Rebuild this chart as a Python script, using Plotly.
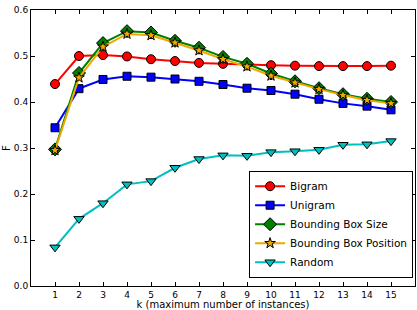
import plotly.graph_objects as go

k = list(range(1, 16))
bigram = [0.439, 0.500, 0.502, 0.499, 0.493, 0.489, 0.485, 0.483, 0.481, 0.480, 0.479, 0.478, 0.478, 0.478, 0.479]
unigram = [0.344, 0.429, 0.449, 0.456, 0.454, 0.450, 0.445, 0.438, 0.430, 0.425, 0.417, 0.406, 0.397, 0.391, 0.383]
bbox_size = [0.297, 0.463, 0.528, 0.554, 0.551, 0.533, 0.518, 0.498, 0.483, 0.462, 0.445, 0.430, 0.417, 0.407, 0.400]
bbox_pos = [0.295, 0.453, 0.520, 0.548, 0.545, 0.529, 0.512, 0.493, 0.477, 0.457, 0.442, 0.428, 0.415, 0.404, 0.397]
random_ = [0.084, 0.146, 0.180, 0.221, 0.228, 0.257, 0.276, 0.284, 0.283, 0.291, 0.293, 0.296, 0.307, 0.308, 0.315]

series = [
    ("Bigram", bigram, "#ff0000", "circle", 9),
    ("Unigram", unigram, "#0000ff", "square", 8),
    ("Bounding Box Size", bbox_size, "#008000", "diamond", 10),
    ("Bounding Box Position", bbox_pos, "#f0a800", "star", 8),
    ("Random", random_, "#00bfbf", "triangle-down", 9),
]

fig = go.Figure()
for name, vals, color, sym, size in series:
    fig.add_trace(go.Scatter(
        x=k, y=vals, name=name, mode="lines+markers",
        line=dict(color=color, width=2),
        marker=dict(symbol=sym, size=size, color=color, line=dict(color="black", width=1)),
    ))

font = "DejaVu Sans"
fig.update_layout(
    width=417, height=310,
    margin=dict(l=31, r=2, t=10, b=24),
    plot_bgcolor="white", paper_bgcolor="white",
    font=dict(family=font, size=9, color="black"),
    showlegend=True,
    legend=dict(
        x=0.995, y=0.03, xanchor="right", yanchor="bottom",
        bordercolor="black", borderwidth=1, bgcolor="white",
        font=dict(family=font, size=10.5),
        tracegroupgap=0, itemsizing="trace",
    ),
    xaxis=dict(
        range=[0, 16], tickmode="array", tickvals=k, ticktext=[str(v) for v in k],
        ticks="inside", ticklen=4, tickcolor="black", showline=True, linecolor="black",
        linewidth=1, mirror="allticks", showgrid=False, zeroline=False,
        title=dict(text="k (maximum number of instances)", font=dict(size=10), standoff=2),
    ),
    yaxis=dict(
        range=[0, 0.6], tickvals=[0, 0.1, 0.2, 0.3, 0.4, 0.5, 0.6], tickformat=".1f",
        ticks="inside", ticklen=4, tickcolor="black", showline=True, linecolor="black",
        linewidth=1, mirror="allticks", showgrid=False, zeroline=False,
        title=dict(text="F", font=dict(size=10), standoff=1),
    ),
)

fig.write_html("out.html")
